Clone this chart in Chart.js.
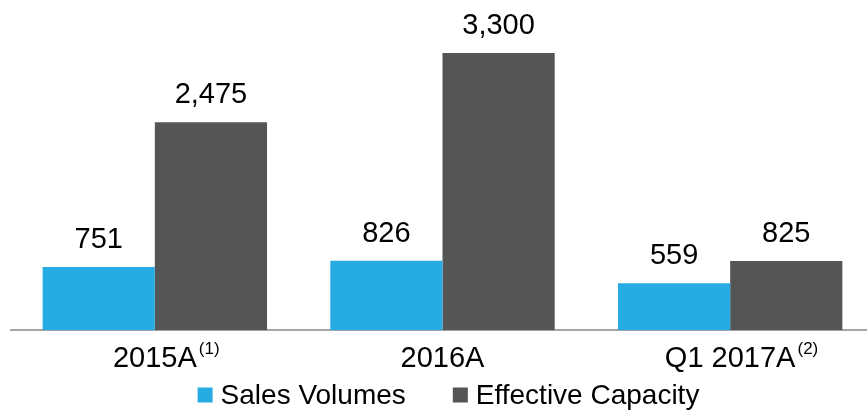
<!DOCTYPE html>
<html>
<head>
<meta charset="utf-8">
<script src="https://cdn.jsdelivr.net/npm/chart.js@4"></script>
<style>
  html, body { margin: 0; padding: 0; background: #fff; overflow: hidden; }
  #wrap { width: 867px; height: 411px; overflow: hidden; }
</style>
</head>
<body>
<div id="wrap"><canvas id="chartJSContainer" width="874" height="411"></canvas></div>
<script>
var categories = ['2015A', '2016A', 'Q1 2017A'];
var footnotes = ['(1)', '', '(2)'];
var salesVolumes = [751, 826, 559];
var effectiveCapacity = [2475, 3300, 825];

var FONT = '"Liberation Sans", Arial, sans-serif';

// numbers above every bar
var valueLabels = {
    id: 'valueLabels',
    afterDatasetsDraw: function (chart) {
        var ctx = chart.ctx;
        ctx.save();
        ctx.font = '29px ' + FONT;
        ctx.fillStyle = '#000';
        ctx.textAlign = 'center';
        ctx.textBaseline = 'alphabetic';
        chart.data.datasets.forEach(function (ds, d) {
            chart.getDatasetMeta(d).data.forEach(function (bar, i) {
                ctx.fillText(ds.data[i].toLocaleString('en-US'), bar.x, bar.y - 19);
            });
        });
        ctx.restore();
    }
};

// superscript footnote marks after the category labels
var footnoteMarks = {
    id: 'footnoteMarks',
    afterDraw: function (chart) {
        var ctx = chart.ctx;
        var xs = chart.scales.x;
        ctx.save();
        for (var i = 0; i < categories.length; i++) {
            if (!footnotes[i]) continue;
            ctx.font = '29px ' + FONT;
            var w = ctx.measureText(categories[i]).width;
            ctx.font = '17px ' + FONT;
            ctx.fillStyle = '#000';
            ctx.textAlign = 'left';
            ctx.textBaseline = 'top';
            ctx.fillText(footnotes[i], xs.getPixelForTick(i) + w / 2 + 2, xs.top + 11);
        }
        ctx.restore();
    }
};

// legend drawn by hand so the spacing can follow the original
var bottomLegend = {
    id: 'bottomLegend',
    afterDraw: function (chart) {
        var ctx = chart.ctx;
        var box = 15, gap = 8, between = 47, y = 395;
        ctx.save();
        ctx.font = '28px ' + FONT;
        var ds = chart.data.datasets;
        var total = 0;
        ds.forEach(function (d, i) {
            total += box + gap + ctx.measureText(d.label).width + (i ? between : 0);
        });
        var x = (chart.chartArea.left + chart.chartArea.right) / 2 + 6 - total / 2;
        ds.forEach(function (d, i) {
            if (i) x += between;
            ctx.fillStyle = d.backgroundColor;
            ctx.fillRect(x, y - box / 2, box, box);
            x += box + gap;
            ctx.fillStyle = '#000';
            ctx.textAlign = 'left';
            ctx.textBaseline = 'middle';
            ctx.fillText(d.label, x, y + 1);
            x += ctx.measureText(d.label).width;
        });
        ctx.restore();
    }
};

var options = {
    type: 'bar',
    data: {
        labels: categories,
        datasets: [
            {
                label: 'Sales Volumes',
                data: salesVolumes,
                backgroundColor: '#26abe2',
                borderWidth: 0
            },
            {
                label: 'Effective Capacity',
                data: effectiveCapacity,
                backgroundColor: '#555555',
                borderWidth: 0
            }
        ]
    },
    options: {
        responsive: false,
        animation: false,
        layout: { padding: { left: 11, right: 0, top: 0, bottom: 32 } },
        datasets: { bar: { categoryPercentage: 0.78, barPercentage: 1 } },
        scales: {
            x: {
                grid: { display: false },
                border: { display: true, color: '#a6a6a6', width: 2 },
                ticks: { color: '#000', font: { size: 29, family: FONT }, padding: 3, maxRotation: 0 }
            },
            y: {
                display: false,
                min: 0,
                max: 3930
            }
        },
        plugins: {
            tooltip: { enabled: false },
            legend: { display: false }
        }
    },
    plugins: [valueLabels, footnoteMarks, bottomLegend]
};

var ctx = document.getElementById('chartJSContainer').getContext('2d');
new Chart(ctx, options);
</script>
</body>
</html>
